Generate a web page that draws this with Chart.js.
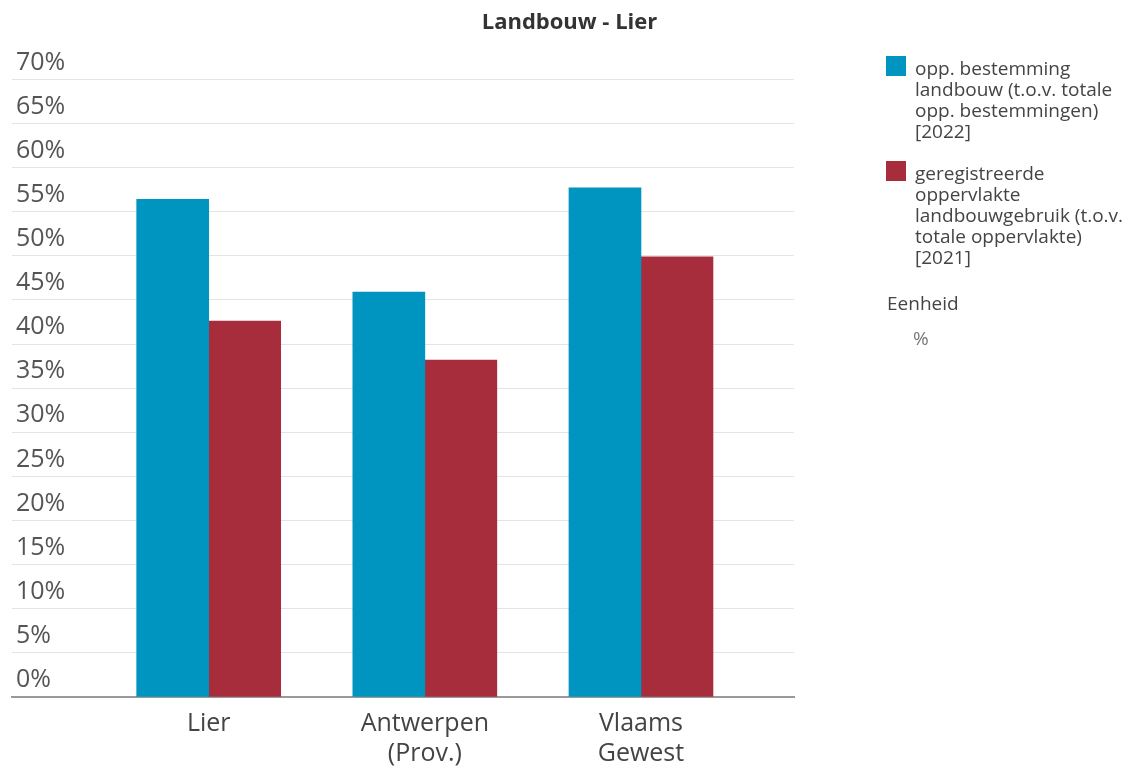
<!DOCTYPE html>
<html lang="nl">
<head>
<meta charset="utf-8">
<title>Landbouw - Lier</title>
<script src="https://cdn.jsdelivr.net/npm/chart.js@4.4.1/dist/chart.umd.min.js"></script>
<style>
    html, body { margin: 0; padding: 0; background: #ffffff; }
    #wrap {
        position: relative;
        width: 1135px;
        height: 769px;
        overflow: hidden;
        font-family: "Open Sans", "Noto Sans", sans-serif;
    }
    #chartBox { position: absolute; left: 0; top: 0; width: 1135px; height: 769px; }
    .legend-item { position: absolute; left: 886px; width: 249px; color: #444; font-size: 19px; line-height: 21px; }
    .legend-item .swatch { position: absolute; left: 0; top: 0; width: 20px; height: 20px; }
    .legend-item .label { position: absolute; left: 29px; top: 2px; white-space: nowrap; }
    .legend-unit-title { position: absolute; left: 887px; top: 293px; color: #444; font-size: 19px; line-height: 21px; }
    .legend-unit { position: absolute; left: 913px; top: 328px; color: #777; font-size: 19px; line-height: 21px; }
</style>
</head>
<body>
<div id="wrap">
    <div id="chartBox"><canvas id="landbouwChart"></canvas></div>
    <div id="legend"></div>
    <div class="legend-unit-title">Eenheid</div>
    <div class="legend-unit">%</div>
</div>

<script>
// ============================================
// DATA
// ============================================

const chartTitle = 'Landbouw - Lier';
const categories = ['Lier', 'Antwerpen (Prov.)', 'Vlaams Gewest'];
const categoryLines = [['Lier'], ['Antwerpen', '(Prov.)'], ['Vlaams', 'Gewest']];

const seriesNames = [
    'opp. bestemming landbouw (t.o.v. totale opp. bestemmingen) [2022]',
    'geregistreerde oppervlakte landbouwgebruik (t.o.v. totale oppervlakte) [2021]'
];
// legend text, broken the way the reference wraps it
const seriesLegendLines = [
    ['opp. bestemming', 'landbouw (t.o.v. totale', 'opp. bestemmingen)', '[2022]'],
    ['geregistreerde', 'oppervlakte', 'landbouwgebruik (t.o.v.', 'totale oppervlakte)', '[2021]']
];
const seriesColors = ['#0094c0', '#a72d3c'];

const bestemmingLandbouw = [56.4, 45.9, 57.7];
const landbouwgebruik = [42.6, 38.2, 49.9];

const yTicks = [0, 5, 10, 15, 20, 25, 30, 35, 40, 45, 50, 55, 60, 65, 70];

// ============================================
// LEGENDA (HTML)
// ============================================

function buildLegend() {
    const legend = document.getElementById('legend');
    const tops = [56, 161];
    seriesLegendLines.forEach((lines, i) => {
        const item = document.createElement('div');
        item.className = 'legend-item';
        item.style.top = tops[i] + 'px';
        item.title = seriesNames[i];

        const swatch = document.createElement('div');
        swatch.className = 'swatch';
        swatch.style.background = seriesColors[i];

        const label = document.createElement('div');
        label.className = 'label';
        label.innerHTML = lines.join('<br>');

        item.appendChild(swatch);
        item.appendChild(label);
        legend.appendChild(item);
    });
}

// ============================================
// GRAFIEK
// ============================================

function createChart() {
    const ctx = document.getElementById('landbouwChart').getContext('2d');

    const toPoints = values => values.map((v, i) => ({ x: i, y: v }));

    return new Chart(ctx, {
        type: 'bar',
        data: {
            datasets: [{
                label: seriesNames[0],
                data: toPoints(bestemmingLandbouw),
                backgroundColor: seriesColors[0],
                barThickness: 72
            }, {
                label: seriesNames[1],
                data: toPoints(landbouwgebruik),
                backgroundColor: seriesColors[1],
                barThickness: 72
            }]
        },
        options: {
            responsive: true,
            maintainAspectRatio: false,
            animation: false,
            layout: {
                padding: { left: 4, right: 0, top: 0, bottom: -12 }
            },
            plugins: {
                legend: { display: false },
                tooltip: { enabled: false },
                title: {
                    display: true,
                    text: chartTitle,
                    color: '#333',
                    font: { family: '"Open Sans", sans-serif', size: 22, weight: 'bold', lineHeight: 1.2 },
                    padding: { top: 10, bottom: 43 }
                }
            },
            scales: {
                x: {
                    type: 'linear',
                    offset: false,
                    min: -0.91,
                    max: 2.708,
                    afterBuildTicks: scale => {
                        scale.ticks = categories.map((c, i) => ({ value: i }));
                    },
                    grid: { display: false, drawTicks: false },
                    border: { display: true, color: '#999', width: 2 },
                    ticks: {
                        autoSkip: false,
                        maxRotation: 0,
                        padding: 12,
                        color: '#444',
                        font: { family: '"Open Sans", sans-serif', size: 25, lineHeight: '30px' },
                        callback: value => categoryLines[value]
                    }
                },
                y: {
                    min: 0,
                    max: 70,
                    afterBuildTicks: scale => {
                        scale.ticks = yTicks.map(v => ({ value: v }));
                    },
                    grid: { color: '#e4e4e4', lineWidth: 1, drawTicks: false },
                    border: { display: false },
                    ticks: {
                        mirror: true,
                        padding: 4,
                        labelOffset: -17,
                        color: '#555',
                        font: { family: '"Open Sans", sans-serif', size: 25 },
                        callback: value => value + '%'
                    }
                },
                // empty axis on the right that keeps room free for the legend
                legendSpace: {
                    type: 'linear',
                    position: 'right',
                    grid: { display: false, drawTicks: false },
                    border: { display: false },
                    ticks: { display: false },
                    afterFit: scale => { scale.width = 341; }
                }
            }
        }
    });
}

// ============================================
// INITIALISATIE
// ============================================

buildLegend();
const landbouwChart = createChart();
</script>
</body>
</html>
